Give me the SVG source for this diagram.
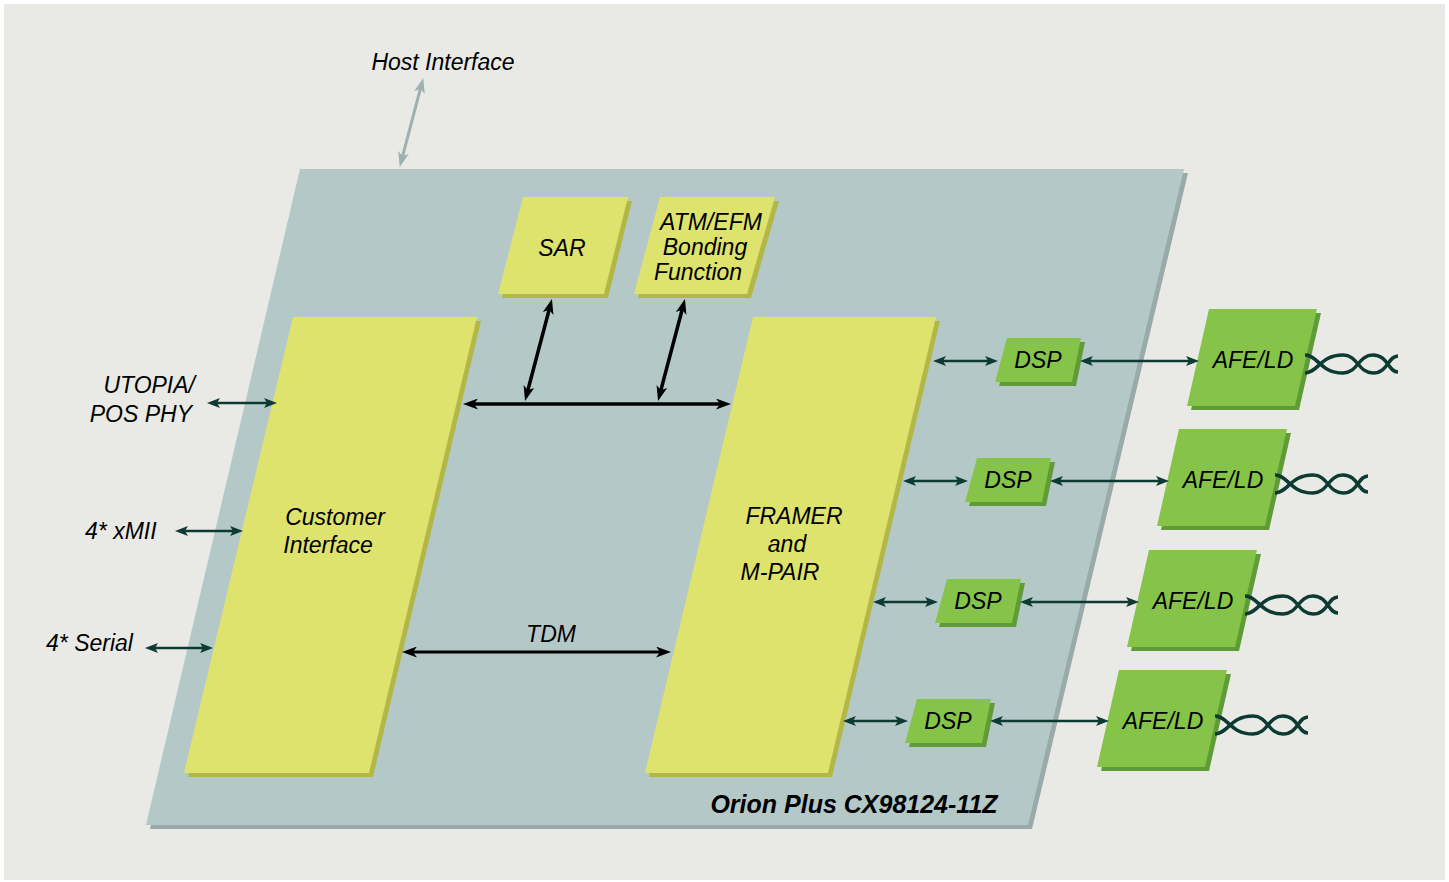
<svg xmlns="http://www.w3.org/2000/svg" width="1449" height="882" viewBox="0 0 1449 882">
<defs>
<style>
.t{font-family:"Liberation Sans",Arial,sans-serif;font-style:italic;font-size:23px;fill:#000;text-anchor:middle}
.ts{text-anchor:start}
.te{text-anchor:end}
.plate{fill:#b5c8c8}
.plateS{fill:#9aa9aa}
.y{fill:#dde36c}
.yS{fill:#b2b747}
.g{fill:#86c449}
.gS{fill:#5f9b36}
.blk{stroke:#000;stroke-width:3.5;fill:none;marker-start:url(#ab);marker-end:url(#ab)}
.tl{stroke:#0d3a33;stroke-width:2.6;fill:none;marker-start:url(#at);marker-end:url(#at)}
.tw{stroke:#0d3a33;stroke-width:3.5;fill:none}
</style>
<marker id="ab" markerUnits="userSpaceOnUse" markerWidth="15" markerHeight="11" viewBox="0 0 15 11" refX="5" refY="5.5" orient="auto-start-reverse"><path d="M0,0 L15,5.5 L0,11 L4,5.5 z" fill="#000"/></marker>
<marker id="ag" markerUnits="userSpaceOnUse" markerWidth="15" markerHeight="11" viewBox="0 0 15 11" refX="5" refY="5.5" orient="auto-start-reverse"><path d="M0,0 L15,5.5 L0,11 L4,5.5 z" fill="#9eb0b1"/></marker>
<marker id="at" markerUnits="userSpaceOnUse" markerWidth="13" markerHeight="10" viewBox="0 0 13 10" refX="4" refY="5" orient="auto-start-reverse"><path d="M0,0 L13,5 L0,10 L3,5 z" fill="#0d3a33"/></marker>
</defs>
<rect width="1449" height="882" fill="#ffffff"/>
<rect x="4" y="4" width="1441" height="876" fill="#e9eae5"/>

<g id="plate">
<polygon class="plateS" points="304,173 1188,173 1032,829 150,829"/>
<polygon class="plate" points="300,169 1184,169 1028,825 146,825"/>
<text class="t" x="854" y="813" style="font-weight:bold;font-size:25px">Orion Plus CX98124-11Z</text>
</g>

<g id="customer">
<polygon class="yS" points="297,321 481,321 373,777 188,777"/>
<polygon class="y" points="293,317 477,317 369,773 184,773"/>
<text class="t" x="335" y="525">Customer</text>
<text class="t" x="328" y="553">Interface</text>
</g>

<g id="framer">
<polygon class="yS" points="757,321 940,321 832,777 649,777"/>
<polygon class="y" points="753,317 936,317 828,773 645,773"/>
<text class="t" x="794" y="524">FRAMER</text>
<text class="t" x="787" y="552">and</text>
<text class="t" x="780" y="580">M-PAIR</text>
</g>

<g id="sar">
<polygon class="yS" points="527,201 632,201 608,298 502,298"/>
<polygon class="y" points="523,197 628,197 604,294 498,294"/>
<text class="t" x="562" y="256">SAR</text>
</g>

<g id="atm">
<polygon class="yS" points="664,201 779,201 751,298 638,298"/>
<polygon class="y" points="660,197 775,197 747,294 634,294"/>
<text class="t" x="711" y="230">ATM/EFM</text>
<text class="t" x="705" y="255">Bonding</text>
<text class="t" x="698" y="280">Function</text>
</g>

<g id="host-label">
<text class="t" x="443" y="70">Host Interface</text>
</g>
<g id="utopia-label">
<text class="t te" x="195" y="393">UTOPIA/</text>
<text class="t te" x="192" y="422">POS PHY</text>
</g>
<g id="xmii-label"><text class="t ts" x="85" y="539">4* xMII</text></g>
<g id="serial-label"><text class="t ts" x="46" y="651">4* Serial</text></g>
<g id="tdm-label"><text class="t" x="551" y="642">TDM</text></g>

<g id="channel1">
<g id="dsp1">
<polygon class="gS" points="1011,342 1085,342 1076,386 999,386"/>
<polygon class="g" points="1007,338 1081,338 1072,382 995,382"/>
<text class="t" x="1038" y="368">DSP</text>
</g>
<g id="afe1">
<polygon class="gS" points="1213,313 1321,313 1299,410 1191,410"/>
<polygon class="g" points="1209,309 1317,309 1295,406 1187,406"/>
<text class="t" x="1253" y="368">AFE/LD</text>
</g>
<path class="tw" d="M1305,355 C1318,355 1320,373 1343,373 C1358,373 1358,355 1373,355 C1388,355 1388,372 1398,372"/>
<path class="tw" d="M1305,373 C1318,373 1320,355 1343,355 C1358,355 1358,373 1373,373 C1388,373 1388,356 1398,356"/>
</g>
<g id="channel2" transform="translate(-30,120)">
<g id="dsp2">
<polygon class="gS" points="1011,342 1085,342 1076,386 999,386"/>
<polygon class="g" points="1007,338 1081,338 1072,382 995,382"/>
<text class="t" x="1038" y="368">DSP</text>
</g>
<g id="afe2">
<polygon class="gS" points="1213,313 1321,313 1299,410 1191,410"/>
<polygon class="g" points="1209,309 1317,309 1295,406 1187,406"/>
<text class="t" x="1253" y="368">AFE/LD</text>
</g>
<path class="tw" d="M1305,355 C1318,355 1320,373 1343,373 C1358,373 1358,355 1373,355 C1388,355 1388,372 1398,372"/>
<path class="tw" d="M1305,373 C1318,373 1320,355 1343,355 C1358,355 1358,373 1373,373 C1388,373 1388,356 1398,356"/>
</g>
<g id="channel3" transform="translate(-60,241)">
<g id="dsp3">
<polygon class="gS" points="1011,342 1085,342 1076,386 999,386"/>
<polygon class="g" points="1007,338 1081,338 1072,382 995,382"/>
<text class="t" x="1038" y="368">DSP</text>
</g>
<g id="afe3">
<polygon class="gS" points="1213,313 1321,313 1299,410 1191,410"/>
<polygon class="g" points="1209,309 1317,309 1295,406 1187,406"/>
<text class="t" x="1253" y="368">AFE/LD</text>
</g>
<path class="tw" d="M1305,355 C1318,355 1320,373 1343,373 C1358,373 1358,355 1373,355 C1388,355 1388,372 1398,372"/>
<path class="tw" d="M1305,373 C1318,373 1320,355 1343,355 C1358,355 1358,373 1373,373 C1388,373 1388,356 1398,356"/>
</g>
<g id="channel4" transform="translate(-90,361)">
<g id="dsp4">
<polygon class="gS" points="1011,342 1085,342 1076,386 999,386"/>
<polygon class="g" points="1007,338 1081,338 1072,382 995,382"/>
<text class="t" x="1038" y="368">DSP</text>
</g>
<g id="afe4">
<polygon class="gS" points="1213,313 1321,313 1299,410 1191,410"/>
<polygon class="g" points="1209,309 1317,309 1295,406 1187,406"/>
<text class="t" x="1253" y="368">AFE/LD</text>
</g>
<path class="tw" d="M1305,355 C1318,355 1320,373 1343,373 C1358,373 1358,355 1373,355 C1388,355 1388,372 1398,372"/>
<path class="tw" d="M1305,373 C1318,373 1320,355 1343,355 C1358,355 1358,373 1373,373 C1388,373 1388,356 1398,356"/>
</g>

<g id="connectors">
<line x1="420.7" y1="87.7" x2="402.3" y2="157.3" stroke="#9eb0b1" stroke-width="3" marker-start="url(#ag)" marker-end="url(#ag)"/>
<line class="blk" x1="549.4" y1="308.7" x2="527.6" y2="391.3"/>
<line class="blk" x1="682.4" y1="308.7" x2="660.6" y2="391.3"/>
<line class="blk" x1="473" y1="404" x2="721" y2="404"/>
<line class="blk" x1="412" y1="652" x2="661" y2="652" style="stroke-width:3"/>
<line class="tl" x1="216" y1="403" x2="268" y2="403"/>
<line class="tl" x1="184" y1="531" x2="234" y2="531"/>
<line class="tl" x1="154" y1="648" x2="204" y2="648"/>
<line class="tl" x1="942" y1="361" x2="989" y2="361"/>
<line class="tl" x1="1089" y1="361" x2="1190" y2="361"/>
<line class="tl" x1="912" y1="481" x2="959" y2="481"/>
<line class="tl" x1="1059" y1="481" x2="1160" y2="481"/>
<line class="tl" x1="882" y1="602" x2="929" y2="602"/>
<line class="tl" x1="1029" y1="602" x2="1130" y2="602"/>
<line class="tl" x1="852" y1="721" x2="899" y2="721"/>
<line class="tl" x1="999" y1="721" x2="1100" y2="721"/>
</g>
</svg>
